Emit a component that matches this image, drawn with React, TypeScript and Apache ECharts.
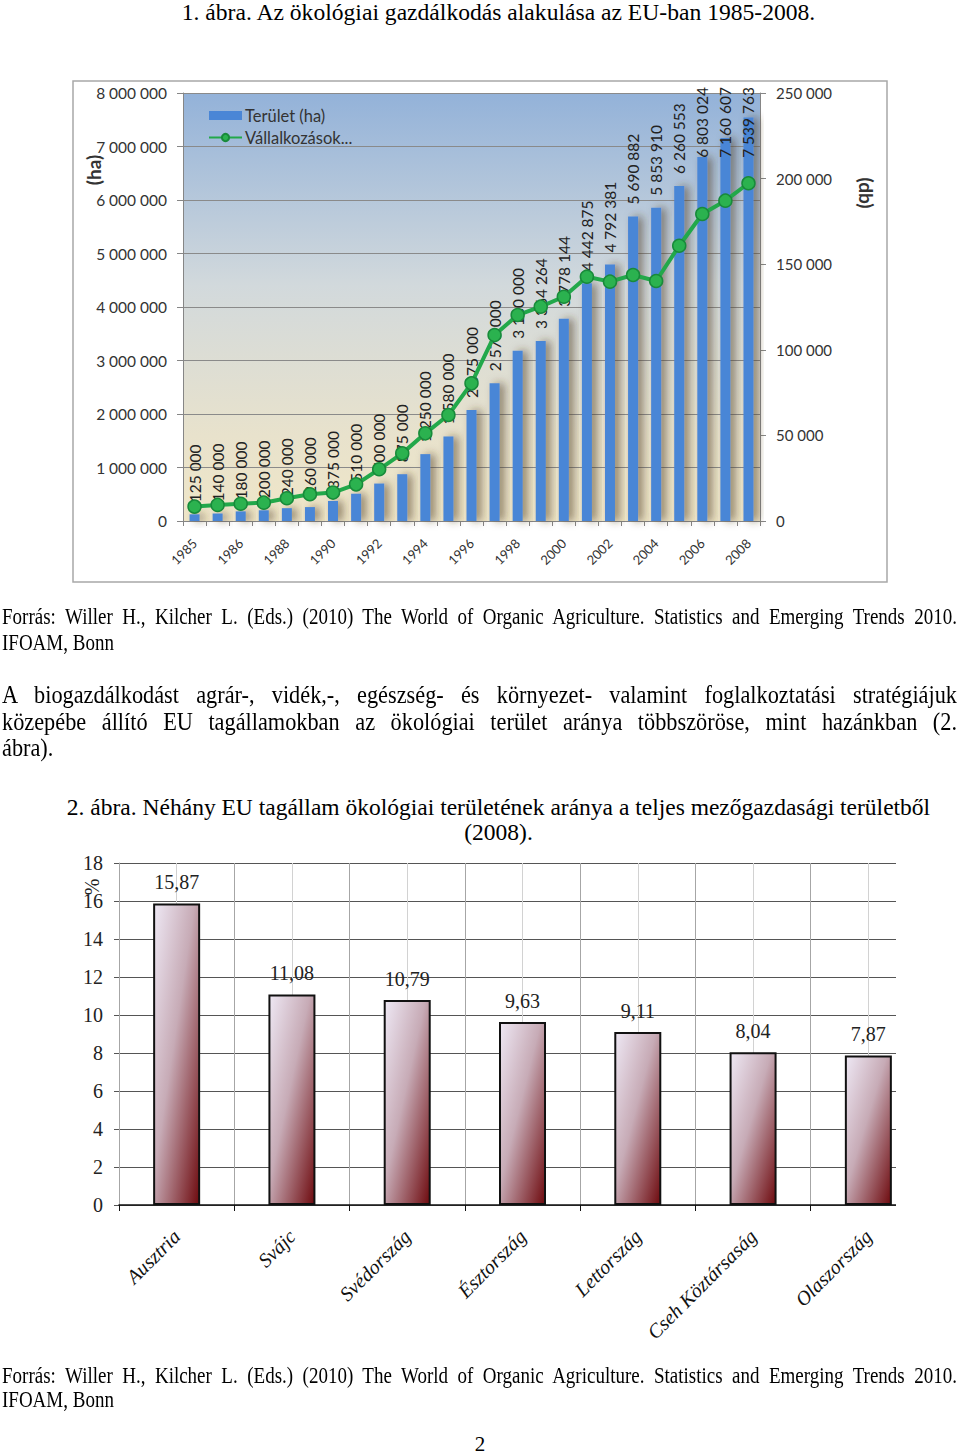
import React, { useEffect, useRef } from "react";
import * as echarts from "echarts";

// ---- Figure 1 data (EU organic farming 1985-2008) ----
const years = ["1985", "", "1986", "1987", "1988", "1989", "1990", "1991", "1992", "1993", "1994", "1995", "1996", "1997", "1998", "1999", "2000", "2001", "2002", "2003", "2004", "2005", "2006", "2007", "2008"];
const areaHa = [125000, 140000, 180000, 200000, 240000, 260000, 375000, 510000, 700000, 875000, 1250000, 1580000, 2075000, 2575000, 3180000, 3364264, 3778144, 4442875, 4792381, 5690882, 5853910, 6260553, 6803024, 7160607, 7539763];
const enterprises = [8400, 9400, 10100, 10700, 13300, 15600, 16600, 21400, 30200, 39500, 51200, 61900, 80400, 108600, 120300, 125200, 131000, 142700, 139800, 143700, 140200, 160800, 179300, 187100, 197300];
const areaName = "Terület (ha)";
const entName = "Vállalkozások (db)";

// ---- Figure 2 data (share of organic area, 2008) ----
const countries = ["Ausztria", "Svájc", "Svédország", "Észtország", "Lettország", "Cseh Köztársaság", "Olaszország"];
const shares = [15.87, 11.08, 10.79, 9.63, 9.11, 8.04, 7.87];

const fmt = (v: number) => String(v).replace(/\B(?=(\d{3})+(?!\d))/g, " ");
const fmtComma = (v: number) => v.toFixed(2).replace(".", ",");

const LABEL_GAP = 12;
const LABEL_TOP_LIMIT = 17;

function option1(): any {
  const axisGray = "#868686";
  return {
    animation: false,
    textStyle: { fontFamily: "Lato" },
    grid: {
      left: 183, right: 200, top: 23, bottom: 79, show: true, borderWidth: 0,
      backgroundColor: new echarts.graphic.LinearGradient(0, 0, 0, 1, [
        { offset: 0, color: "#93b2d9" },
        { offset: 0.45, color: "#d2d9dc" },
        { offset: 0.8, color: "#e8e2cc" },
        { offset: 1, color: "#efe6c8" },
      ]),
    },
    legend: {
      left: 203, top: 32, orient: "vertical", itemGap: 5, itemWidth: 33, itemHeight: 9,
      textStyle: { fontSize: 16.5, color: "#333", fontFamily: "Lato", padding: [0, 0, 0, -2] },
      formatter: (n: string) => (n.length > 14 ? n.slice(0, 13) + "..." : n),
      data: [{ name: areaName, icon: "rect" }, { name: entName }],
    },
    xAxis: {
      type: "category", data: years, boundaryGap: true,
      axisLine: { lineStyle: { color: axisGray } },
      axisTick: { show: true, interval: 0, length: 5, lineStyle: { color: axisGray } },
      axisLabel: { interval: 1, rotate: 45, margin: 20, fontSize: 13, color: "#333", fontFamily: "Lato" },
    },
    yAxis: [
      {
        type: "value", min: 0, max: 8000000, interval: 1000000,
        axisLine: { show: true, lineStyle: { color: axisGray } },
        axisTick: { show: true, length: 6, lineStyle: { color: axisGray } },
        axisLabel: { formatter: (v: number) => fmt(v), fontSize: 15.5, color: "#333", margin: 16, fontFamily: "Lato" },
        splitLine: { lineStyle: { color: "#8a8a8a" } },
      },
      {
        type: "value", min: 0, max: 250000, interval: 50000, position: "right",
        axisLine: { show: true, lineStyle: { color: axisGray } },
        axisTick: { show: true, length: 6, lineStyle: { color: axisGray } },
        axisLabel: { formatter: (v: number) => fmt(v), fontSize: 15, color: "#333", margin: 16, fontFamily: "Lato" },
        splitLine: { show: false },
      },
    ],
    series: [
      {
        type: "bar", name: areaName, data: areaHa, barWidth: 10,
        itemStyle: { color: "#4a86d6", shadowColor: "rgba(70,55,30,0.55)", shadowBlur: 8, shadowOffsetX: 5 },
        label: {
          show: true, position: "top", distance: LABEL_GAP, rotate: 90, align: "left", verticalAlign: "middle",
          formatter: (p: any) => fmt(p.value), fontSize: 15.5, color: "#222", fontFamily: "Lato",
        },
        // keep the rotated labels inside the chart frame (offset is in the label's rotated frame)
        labelLayout: (p: any) => {
          const len = Math.max(p.labelRect.width, p.labelRect.height);
          const top = p.rect.y - LABEL_GAP - len;
          return { dx: -Math.max(0, LABEL_TOP_LIMIT - top) };
        },
      },
      {
        type: "line", name: entName, yAxisIndex: 1, data: enterprises, symbol: "circle", symbolSize: 13, z: 3,
        lineStyle: { color: "#22a84a", width: 4 },
        itemStyle: { color: "#2bb24f", borderColor: "#188a3a", borderWidth: 1.5 },
      },
    ],
    graphic: [
      { type: "rect", silent: true, shape: { x: 73, y: 11, width: 814, height: 501 }, style: { fill: "none", stroke: "#a8a8a8", lineWidth: 1.5 } },
      { type: "text", x: 93, y: 100, rotation: Math.PI / 2, style: { text: "(ha)", fontSize: 19, fontWeight: "bold", fill: "#333", align: "center", verticalAlign: "middle", fontFamily: "Lato" } },
      { type: "text", x: 866, y: 123, rotation: -Math.PI / 2, style: { text: "(db)", fontSize: 19, fontWeight: "bold", fill: "#333", align: "center", verticalAlign: "middle", fontFamily: "Lato" } },
    ],
  };
}

function option2(): any {
  const serif = '"Liberation Serif", "Times New Roman", serif';
  return {
    animation: false,
    textStyle: { fontFamily: serif },
    grid: { left: 119, top: 13, width: 807, bottom: 145 },
    xAxis: [
      {
        type: "category", data: countries, z: 2,
        axisLine: { lineStyle: { color: "#111", width: 1.5 } },
        axisTick: { show: true, length: 6, lineStyle: { color: "#111" } },
        axisLabel: { interval: 0, rotate: 45, margin: 28, fontSize: 20, fontStyle: "italic", color: "#111", fontFamily: serif },
        splitLine: { show: true, lineStyle: { color: "#a6a6a6" } },
      },
      {
        type: "value", min: 0, max: 14, interval: 1, position: "top", z: 0,
        axisLine: { show: false }, axisTick: { show: false }, axisLabel: { show: false },
        splitLine: { show: true, lineStyle: { color: "#d2d2d2" } },
      },
    ],
    yAxis: {
      type: "value", min: 0, max: 18, interval: 2,
      axisLine: { show: true, lineStyle: { color: "#a6a6a6" } },
      axisTick: { show: true, length: 5, lineStyle: { color: "#555" } },
      axisLabel: { fontSize: 20, color: "#222", margin: 16, fontFamily: serif },
      splitLine: { lineStyle: { color: "#555" } },
    },
    series: [
      {
        type: "bar", data: shares, barWidth: 47, xAxisIndex: 0, yAxisIndex: 0,
        itemStyle: {
          color: new echarts.graphic.LinearGradient(0, 0, 1, 1, [
            { offset: 0, color: "#eee8f4" },
            { offset: 0.45, color: "#c7abb6" },
            { offset: 1, color: "#6e0a0e" },
          ]),
          borderColor: "#111", borderWidth: 2,
        },
        label: { show: true, position: "top", distance: 11, fontSize: 20, color: "#222", fontFamily: serif, formatter: (p: any) => fmtComma(p.value) },
      },
    ],
    graphic: [
      { type: "text", x: 92, y: 37, rotation: Math.PI / 2, style: { text: "%", fontSize: 20, fill: "#222", align: "center", verticalAlign: "middle", fontFamily: serif } },
    ],
  };
}

type LineProps = { baseline: number; left: number; width: number; size: number; sy?: number; align: "left" | "center" | "justify"; children: React.ReactNode };

function TextLine({ baseline, left, width, size, sy = 1, align, children }: LineProps) {
  const top = baseline - 0.8375 * size * sy;
  return (
    <div
      style={{
        position: "absolute", left, top, width, fontSize: size, lineHeight: size + "px",
        textAlign: align, textAlignLast: align as any, transform: `scaleY(${sy})`, transformOrigin: "top left",
      }}
    >
      {children}
    </div>
  );
}

const srcLine = "Forrás: Willer H., Kilcher L. (Eds.) (2010) The World of Organic Agriculture. Statistics and Emerging Trends 2010.";

export default function App() {
  const c1 = useRef<HTMLDivElement>(null);
  const c2 = useRef<HTMLDivElement>(null);
  useEffect(() => {
    const ch1 = echarts.init(c1.current!, undefined, { renderer: "svg" });
    ch1.setOption(option1());
    const ch2 = echarts.init(c2.current!, undefined, { renderer: "svg" });
    ch2.setOption(option2());
    return () => {
      ch1.dispose();
      ch2.dispose();
    };
  }, []);

  return (
    <div style={{ position: "absolute", left: 0, top: 0, width: 960, height: 1455, overflow: "hidden", background: "#fff", color: "#000", fontFamily: '"Liberation Serif", "Times New Roman", serif' }}>
      <TextLine baseline={21} left={36} width={925} size={23.6} align="center">1. ábra. Az ökológiai gazdálkodás alakulása az EU-ban 1985-2008.</TextLine>

      <div ref={c1} style={{ position: "absolute", left: 0, top: 70, width: 960, height: 530 }} />

      <TextLine baseline={624} left={2} width={955} size={19} sy={1.2} align="justify">{srcLine}</TextLine>
      <TextLine baseline={650} left={2} width={955} size={19} sy={1.2} align="left">IFOAM, Bonn</TextLine>

      <TextLine baseline={704} left={2} width={955} size={22.3} sy={1.1} align="justify">A biogazdálkodást agrár-, vidék,-, egészség- és környezet- valamint foglalkoztatási stratégiájuk</TextLine>
      <TextLine baseline={731} left={2} width={955} size={22.3} sy={1.1} align="justify">közepébe állító EU tagállamokban az ökológiai terület aránya többszöröse, mint hazánkban (2.</TextLine>
      <TextLine baseline={757} left={2} width={955} size={22.3} sy={1.1} align="left">ábra).</TextLine>

      <TextLine baseline={816} left={36} width={925} size={23.5} align="center">2. ábra. Néhány EU tagállam ökológiai területének aránya a teljes mezőgazdasági területből</TextLine>
      <TextLine baseline={841} left={36} width={925} size={23.5} align="center">(2008).</TextLine>

      <div style={{ position: "absolute", left: 0, top: 850, width: 896, height: 500, overflow: "hidden" }}>
        <div ref={c2} style={{ position: "absolute", left: 0, top: 0, width: 960, height: 500 }} />
      </div>

      <TextLine baseline={1383} left={2} width={955} size={19} sy={1.2} align="justify">{srcLine}</TextLine>
      <TextLine baseline={1407} left={2} width={955} size={19} sy={1.2} align="left">IFOAM, Bonn</TextLine>

      <TextLine baseline={1452} left={0} width={960} size={21} align="center">2</TextLine>
    </div>
  );
}
